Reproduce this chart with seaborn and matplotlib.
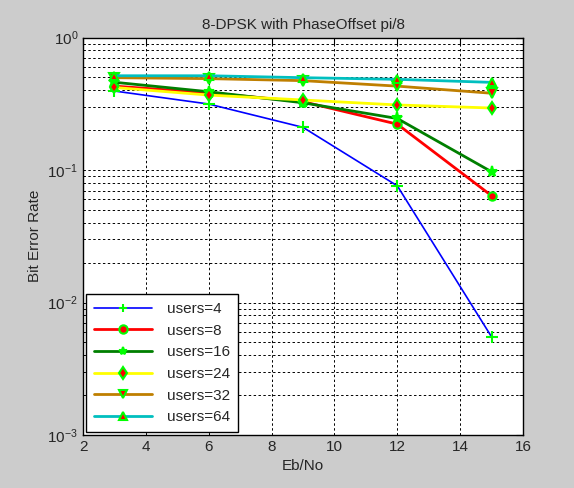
import numpy as np
import pandas as pd
import matplotlib
matplotlib.use("Agg")
import matplotlib.pyplot as plt
import seaborn as sns
from matplotlib.ticker import LogLocator, NullFormatter

ebno = [3, 6, 9, 12, 15]
users = ["users=4", "users=8", "users=16", "users=24", "users=32", "users=64"]
ber_4 = [0.395, 0.315, 0.21, 0.076, 0.0055]
ber_8 = [0.43, 0.383, 0.328, 0.222, 0.064]
ber_16 = [0.46, 0.39, 0.322, 0.245, 0.097]
ber_24 = [0.42, 0.368, 0.338, 0.31, 0.294]
ber_32 = [0.498, 0.49, 0.473, 0.43, 0.38]
ber_64 = [0.515, 0.515, 0.498, 0.484, 0.459]

series = [ber_4, ber_8, ber_16, ber_24, ber_32, ber_64]
df = pd.DataFrame({
    "EbNo": ebno * len(users),
    "BER": [v for s in series for v in s],
    "users": [u for u in users for _ in ebno],
})

line_colors = ["#0000ff", "#ff0000", "#007f00", "#ffff00", "#bf7f00", "#00bfbf"]
markers = ["+", "o", "*", "d", "v", "^"]
face = ["#00ff00", "#ff0000", "#00ff00", "#ff0000", "#ff0000", "#ff0000"]
sizes = [8, 6, 8, 6, 7, 6]
widths = [1.2, 2, 2, 2, 2, 2]

sns.set_style("white")
plt.rcParams["font.family"] = ["Liberation Sans", "DejaVu Sans"]

fig = plt.figure(figsize=(5.74, 4.88), dpi=100, facecolor="#cccccc")
ax = fig.add_axes([0.1446, 0.1086, 0.7666, 0.8144])
ax.set_facecolor("white")

for u, c, m, fc, ms, lw in zip(users, line_colors, markers, face, sizes, widths):
    sns.lineplot(data=df[df["users"] == u], x="EbNo", y="BER", ax=ax,
                 color=c, linewidth=lw, marker=m, markersize=ms,
                 markerfacecolor=fc, markeredgecolor="#00ff00",
                 markeredgewidth=1.5, label=u)

ax.set_yscale("log")
ax.set_xlim(2, 16)
ax.set_ylim(1e-3, 1)
ax.set_xticks([2, 4, 6, 8, 10, 12, 14, 16])
ax.yaxis.set_major_locator(LogLocator(base=10, numticks=10))
ax.yaxis.set_minor_locator(LogLocator(base=10, subs=np.arange(2, 10), numticks=20))
ax.yaxis.set_minor_formatter(NullFormatter())

ax.grid(True, which="major", color="black", linestyle=(0, (2.5, 2.5)), linewidth=0.7)
ax.grid(True, which="minor", axis="y", color="black", linestyle=(0, (2.5, 2.5)), linewidth=0.7)
ax.tick_params(which="both", direction="in", top=True, right=True, labelsize=11,
               color="black")
ax.tick_params(which="major", length=5)
ax.tick_params(which="minor", length=3)
for sp in ax.spines.values():
    sp.set_color("black")
    sp.set_linewidth(1)

ax.set_title("8-DPSK with PhaseOffset pi/8", fontsize=11)
ax.set_xlabel("Eb/No", fontsize=11)
ax.set_ylabel("Bit Error Rate", fontsize=11)

leg = ax.legend(loc="lower left", fontsize=11, frameon=True, fancybox=False,
                edgecolor="black", framealpha=1, borderaxespad=0.2,
                handlelength=3.8, handletextpad=1.0, labelspacing=0.5,
                borderpad=0.5)
leg.get_frame().set_linewidth(1)
for h in leg.legend_handles:
    h.set_markersize(6)

fig.savefig("out.png", dpi=100, facecolor=fig.get_facecolor())
